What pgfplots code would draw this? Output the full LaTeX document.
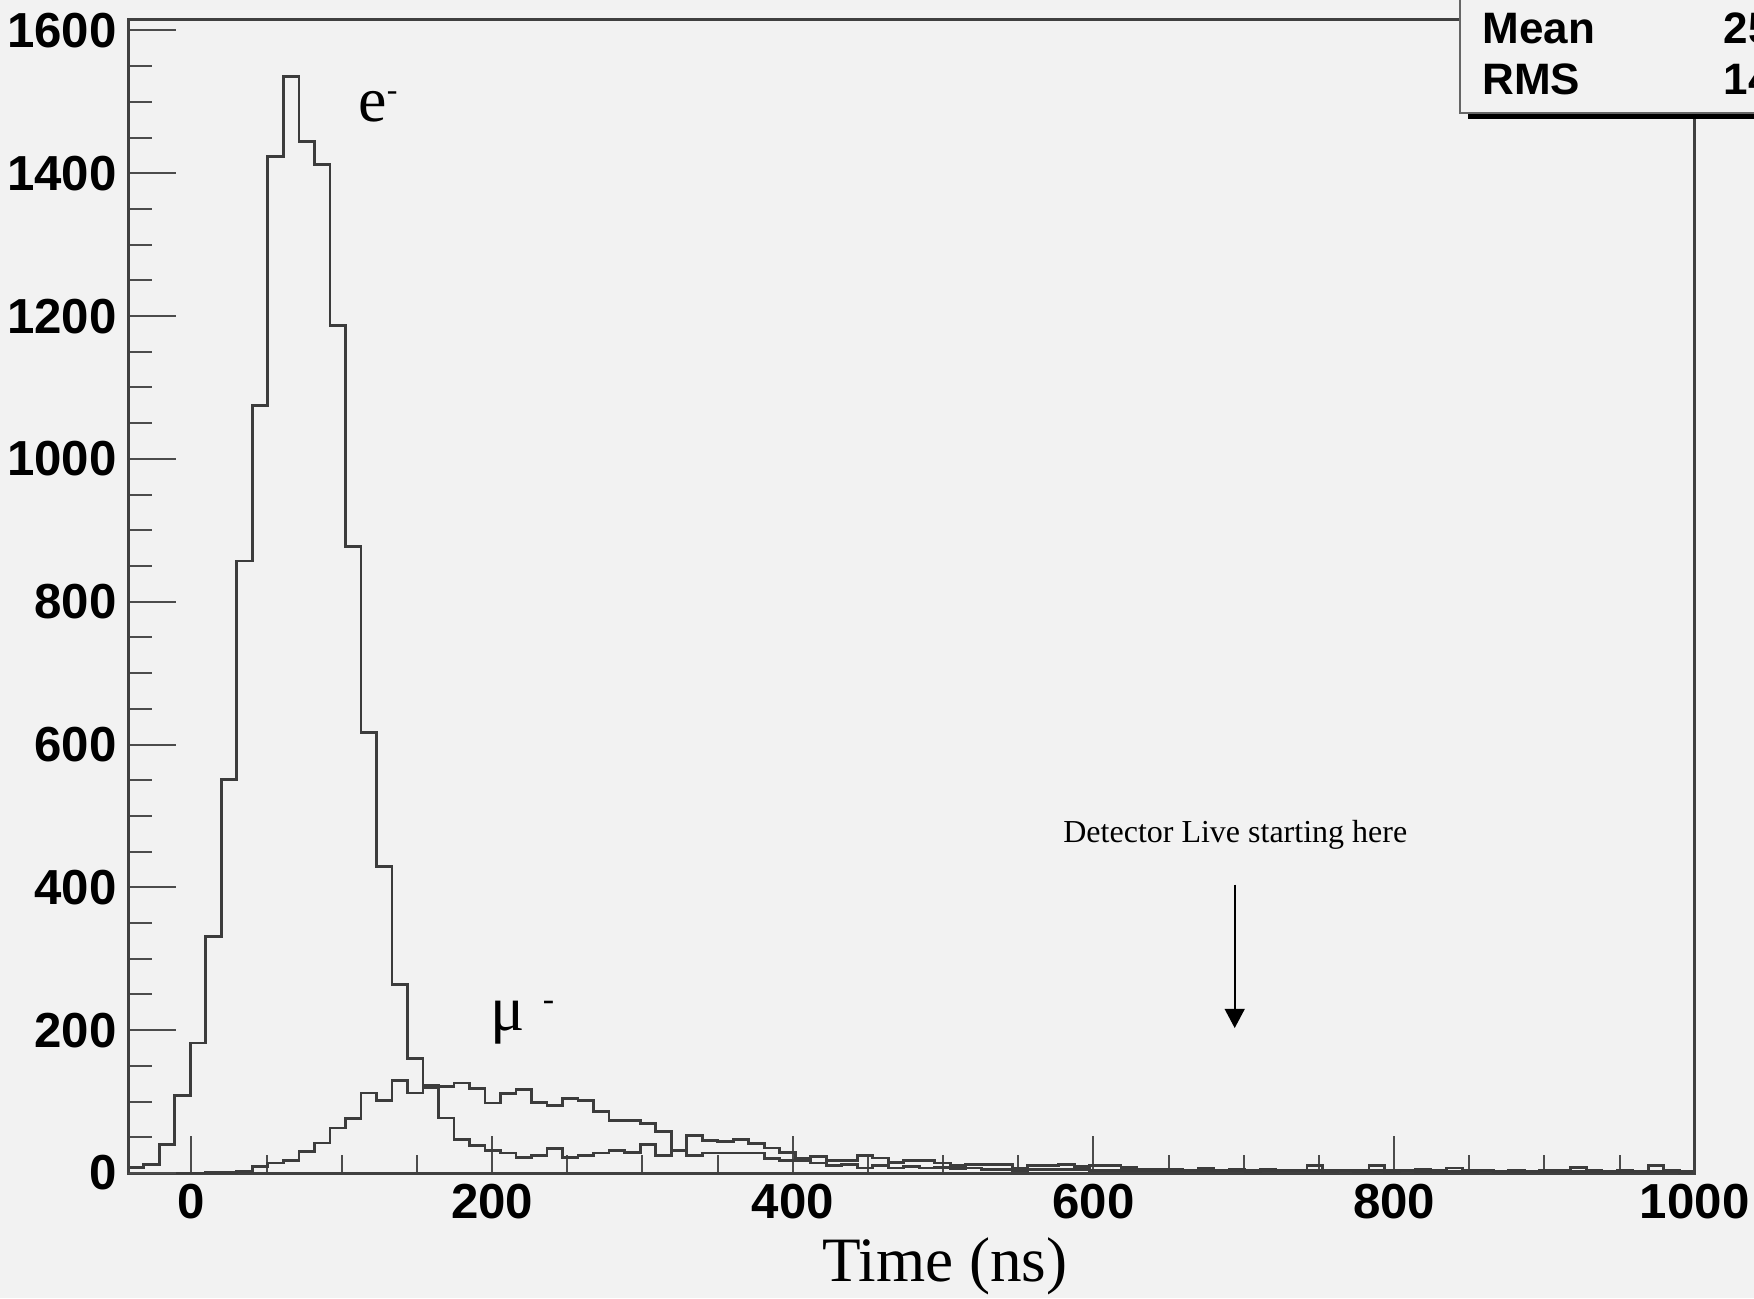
\documentclass[border=0pt]{standalone}
\usepackage{pgfplots}
\pgfplotsset{compat=1.18}
\usepackage{pgfplotstable}
\usepackage{fontspec}
\setmainfont{Liberation Serif}
\setsansfont{Liberation Sans}
\usetikzlibrary{arrows.meta}
\definecolor{bgc}{RGB}{242,242,242}
\definecolor{histc}{RGB}{60,60,60}

\pgfplotstableread{
x e mu
-42.00 8 0
-31.68 12 0
-21.37 40 0
-11.05 108 0
-0.73 182 0
9.59 331 1
19.90 551 1
30.22 857 2
40.54 1075 9
50.85 1424 14
61.17 1535 17
71.49 1445 30
81.80 1412 42
92.12 1187 63
102.44 877 76
112.76 617 112
123.07 429 101
133.39 264 130
143.71 160 112
154.02 122 120
164.34 77 121
174.66 47 126
184.97 39 118
195.29 31 98
205.61 28 111
215.93 22 117
226.24 24 99
236.56 34 95
246.88 22 104
257.19 24 101
267.51 28 86
277.83 32 74
288.14 29 74
298.46 40 69
308.78 24 58
319.10 32 32
329.41 24 53
339.73 28 46
350.05 28 44
360.36 28 47
370.68 28 41
381.00 20 35
391.31 18 29
401.63 18 20
411.95 14 23
422.27 11 17
432.58 12 17
442.90 7 25
453.22 11 21
463.53 7 15
473.85 9 18
484.17 7 17
494.48 8 14
504.80 6 11
515.12 7 12
525.44 5 12
535.75 5 12
546.07 3 6
556.39 5 10
566.70 5 11
577.02 5 12
587.34 5 9
597.65 3 10
607.97 4 10
618.29 3 8
628.61 3 5
638.92 3 5
649.24 3 5
659.56 4 4
669.87 3 7
680.19 4 4
690.51 3 5
700.82 2 4
711.14 3 5
721.46 3 3
731.78 3 4
742.09 3 10
752.41 2 4
762.73 3 3
773.04 2 4
783.36 3 10
793.68 2 4
803.99 3 3
814.31 5 2
824.63 2 3
834.95 2 7
845.26 2 3
855.58 3 3
865.90 2 2
876.21 2 3
886.53 2 2
896.85 2 3
907.16 3 2
917.48 2 8
927.80 2 3
938.12 2 2
948.43 2 3
958.75 2 2
969.07 2 10
979.38 2 3
989.70 1 2
1000.00 1 2
}\hist

\pgfplotsset{
  rootaxis/.style={
    at={(0,0)}, anchor=south west,
    scale only axis, width=391.6pt, height=288.5pt,
    xmin=-42, xmax=1000, ymin=0, ymax=1616,
    tick align=inside,
    axis line style={black!75, line width=0.75pt},
    every tick/.style={black!70, line width=0.5pt},
    /pgf/number format/assume math mode=true,
    /pgf/number format/1000 sep={},
    scaled ticks=false,
    ticklabel style={font=\fontsize{12.3}{14}\selectfont\sffamily\bfseries, inner sep=0pt},
  }
}

\begin{document}
\begin{tikzpicture}
\path[use as bounding box, fill=bgc] (-32.075pt,-31.25pt) rectangle (406.425pt,293.25pt);

\begin{axis}[
  rootaxis,
  xtick={0,200,...,1000}, minor x tick num=3,
  xtick pos=left,
  ytick=\empty,
  major tick length=9.2pt, minor tick length=4.6pt,
  xticklabel style={yshift=-2.6pt},
  xlabel={Time (ns)},
  xlabel style={at={(axis description cs:0.5214,0)}, anchor=base, yshift=-27pt, inner sep=0pt,
                font=\fontsize{15.8}{18}\selectfont},
  clip=false,
]
\addplot[const plot mark left, histc, line width=0.7pt] table[x=x, y=mu] {\hist};
\addplot[const plot mark left, histc, line width=0.7pt] table[x=x, y=e] {\hist};

\node[anchor=base west, inner sep=0pt] at (axis cs:110.6,1473)
  {\fontsize{16}{16}\selectfont e\raisebox{5.2pt}{\fontsize{8}{8}\selectfont -}};
\node[anchor=base west, inner sep=0pt] at (axis cs:198.5,199)
  {\fontsize{16}{16}\selectfont μ\hspace{4.5pt}\raisebox{5pt}{\fontsize{8.5}{8.5}\selectfont -}};
\node[anchor=base west, inner sep=0pt] at (axis cs:579.5,462.6)
  {\fontsize{8}{9}\selectfont Detector Live starting here};
\draw[black, line width=0.4pt, -{Triangle[width=5pt,length=4.8pt]}] (axis cs:694,404) -- (axis cs:694,203);
\end{axis}

\begin{axis}[
  rootaxis,
  hide x axis,
  ytick={0,200,...,1600}, minor y tick num=3,
  ytick pos=left,
  major tick length=12pt, minor tick length=6pt,
  yticklabel style={xshift=-2.7pt},
]
\end{axis}

% statistics box (ROOT style), cut by the picture's edge
\fill[black] (335pt,263.5pt) rectangle (420pt,265pt);
\fill[bgc] (332.9pt,265.1pt) rectangle (420pt,300pt);
\draw[black!60, line width=0.5pt] (332.9pt,300pt) -- (332.9pt,265.1pt) -- (420pt,265.1pt);
\node[anchor=base west, inner sep=0pt, font=\fontsize{11}{13}\selectfont\sffamily\bfseries] at (338.35pt,282.4pt) {Mean};
\node[anchor=base west, inner sep=0pt, font=\fontsize{11}{13}\selectfont\sffamily\bfseries] at (338.35pt,269.5pt) {RMS};
\node[anchor=base west, inner sep=0pt, font=\fontsize{11}{13}\selectfont\sffamily\bfseries] at (398.7pt,282.4pt) {25};
\node[anchor=base west, inner sep=0pt, font=\fontsize{11}{13}\selectfont\sffamily\bfseries] at (398.7pt,269.5pt) {14};
\end{tikzpicture}
\end{document}
